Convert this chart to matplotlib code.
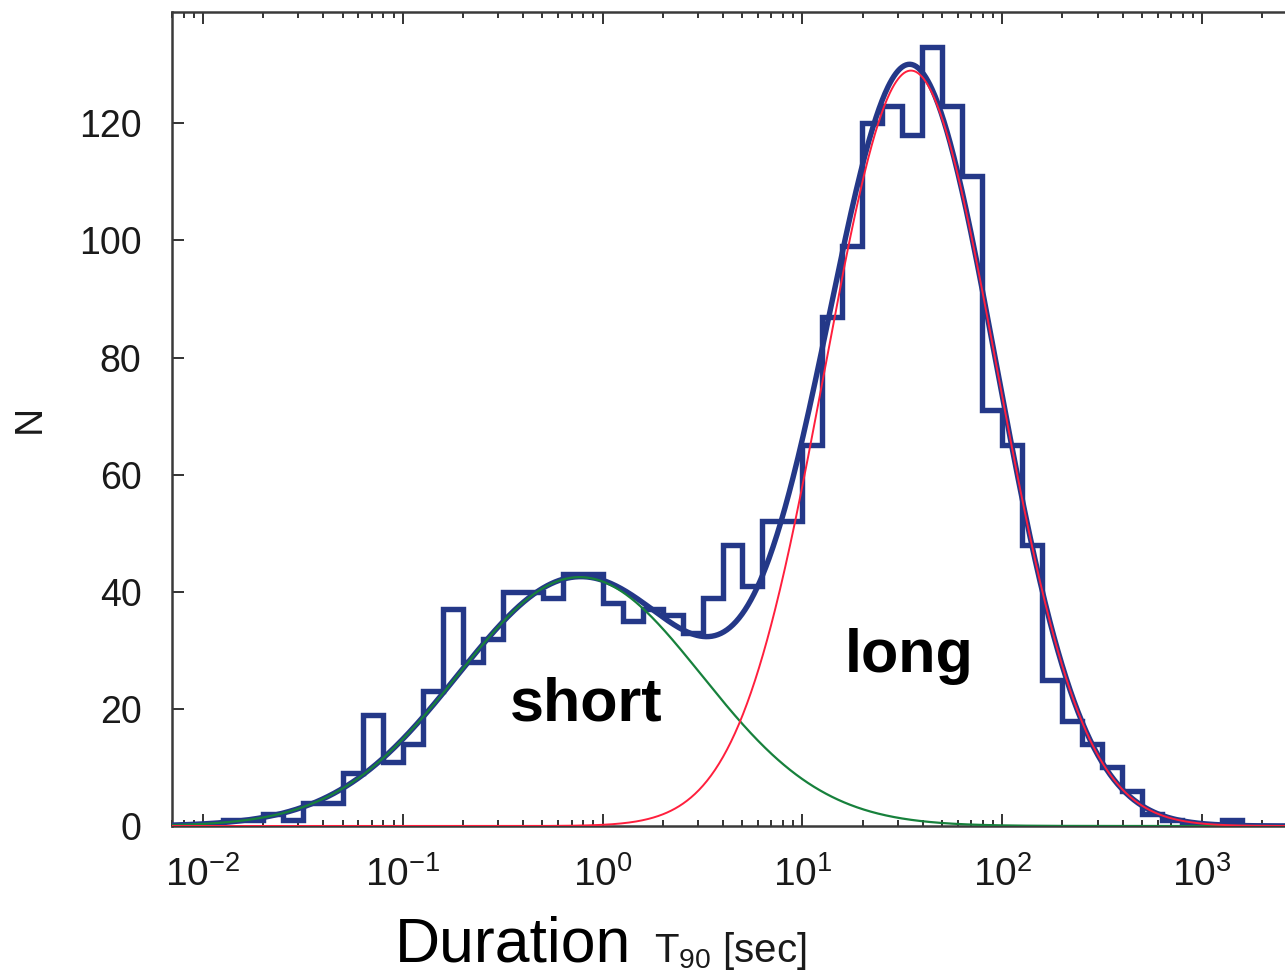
import numpy as np
import matplotlib
matplotlib.use('Agg')
from matplotlib import pyplot as plt

plt.rcParams['font.family'] = ['Liberation Sans', 'DejaVu Sans']
plt.rcParams['mathtext.fontset'] = 'custom'
plt.rcParams['mathtext.rm'] = 'Liberation Sans'
plt.rcParams['mathtext.it'] = 'Liberation Sans:italic'
plt.rcParams['mathtext.bf'] = 'Liberation Sans:bold'

# histogram: bins of 0.1 dex in log10(T90), first bin starts at 10^-2.3
BIN_START = -2.3
BIN_WIDTH = 0.1
COUNTS = [0, 0, 0,
          0, 1, 1, 2, 1, 4, 4, 9, 19, 11,
          14, 23, 37, 28, 32, 40, 40, 39, 43, 43,
          38, 35, 37, 36, 33, 39, 48, 41, 52, 52,
          65, 87, 99, 120, 123, 118, 133, 123, 111, 71,
          65, 48, 25, 18, 14, 10, 6, 2, 1, 0,
          0, 1,
          0, 0, 0]

# lognormal fit components: (amplitude, centre log10 T90, width in dex)
SHORT_FIT = (42.5, -0.115, 0.61)
LONG_FIT = (129.0, 1.543, 0.43)

Y_TICKS = [0, 20, 40, 60, 80, 100, 120]

HIST_COLOR = '#243888'
SHORT_COLOR = '#17813c'
LONG_COLOR = '#ff1f3d'


def gauss(logt, fit):
    amp, mu, sig = fit
    return amp * np.exp(-0.5 * ((logt - mu) / sig) ** 2)


fig = plt.figure(figsize=(12.85, 9.76), dpi=100)
# the right-hand spine sits just past the edge of the picture
ax = fig.add_axes([172 / 1285, 150 / 976, (1292 - 172) / 1285, 814 / 976])

ax.set_xscale('log')
ax.set_xlim(10 ** -2.155, 10 ** 3.45)
ax.set_ylim(0, 139)

#
# histogram
#

edges = 10 ** (BIN_START + BIN_WIDTH * np.arange(len(COUNTS) + 1))
ax.stairs(COUNTS, edges, color=HIST_COLOR, linewidth=3.9, zorder=2,
          joinstyle='miter')

#
# fit curves
#

logt = np.linspace(-2.4, 3.6, 1200)
t = 10 ** logt
short = gauss(logt, SHORT_FIT)
long_ = gauss(logt, LONG_FIT)

ax.plot(t, short + long_, color=HIST_COLOR, linewidth=3.9, zorder=3,
        solid_capstyle='round')
ax.plot(t, short, color=SHORT_COLOR, linewidth=1.6, zorder=4)
ax.plot(t, long_, color=LONG_COLOR, linewidth=1.4, zorder=5)

#
# annotations
#

ax.text(10 ** -0.465, 18.1, 'short', fontsize=44, fontweight='bold',
        ha='left', va='baseline', zorder=6)
ax.text(10 ** 1.21, 26.3, 'long', fontsize=44, fontweight='bold',
        ha='left', va='baseline', zorder=6)

#
# axes styling
#

ax.spines['right'].set_visible(False)
for side in ['left', 'top', 'bottom']:
    ax.spines[side].set_color('#3a3a3a')
    ax.spines[side].set_linewidth(1.8)

ax.set_yticks(Y_TICKS)
ax.tick_params(which='both', direction='in', top=True, right=False,
               color='#333333', width=1.4, labelcolor='#1a1a1a')
ax.tick_params(which='major', length=8.5)
ax.tick_params(which='minor', length=4)
ax.tick_params(axis='y', which='major', labelsize=27, pad=22)
ax.tick_params(axis='x', which='major', labelsize=28, pad=22)
ax.yaxis.set_minor_locator(matplotlib.ticker.NullLocator())

ax.set_ylabel('N', fontsize=28, color='#1a1a1a')
ax.yaxis.set_label_coords((48 - 172) / 1120, 0.5)

fig.text(395 / 1285, 1 - 962 / 976, 'Duration', fontsize=45,
         ha='left', va='baseline')
fig.text(654 / 1285, 1 - 962 / 976, 'T$_{90}$ [sec]', fontsize=29,
         ha='left', va='baseline', color='#1a1a1a')

fig.savefig('out.png', dpi=100)
